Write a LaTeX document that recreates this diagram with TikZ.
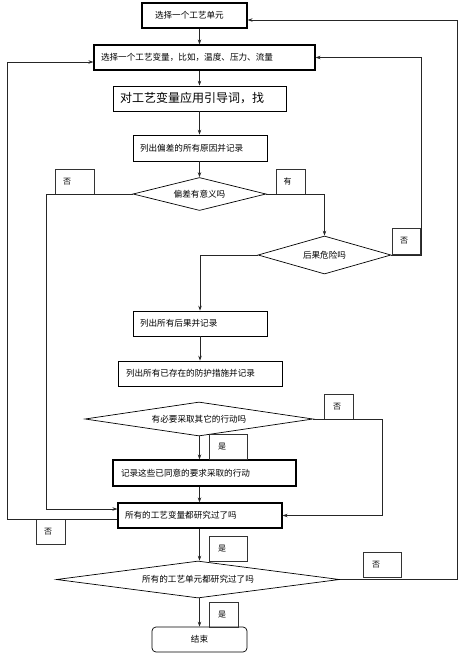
\documentclass[tikz,border=0pt]{standalone}
\usepackage{fontspec}
\setmainfont{Noto Sans CJK SC}
\usetikzlibrary{arrows.meta,shapes.geometric}
\tikzset{
  box/.style={draw=black, line width=0.7pt, rectangle, inner xsep=7pt, inner ysep=0pt, align=left, font=\fontsize{8.6}{10}\selectfont},
  thickbox/.style={box, line width=1.1pt},
  dia/.style={draw=black, line width=0.7pt, diamond, inner sep=0pt},
  lab/.style={draw=black!80, line width=0.7pt, rectangle, inner xsep=8pt, inner ysep=0pt, align=left, font=\fontsize{8}{9}\selectfont},
  conn/.style={line width=0.7pt, draw=black!85},
  arr/.style={conn, -{Stealth[length=5pt,width=3.5pt]}},
  dtext/.style={font=\fontsize{8.6}{10}\selectfont}
}
\begin{document}
\begin{tikzpicture}[x=1pt,y=-1pt]
\useasboundingbox (0,0) rectangle (466,659);
% rectangular boxes
\node[thickbox, minimum width=105, minimum height=25, text width=91] (b1) at (194.5,15.5) {\hspace*{6pt}选择一个工艺单元};
\node[thickbox, minimum width=221, minimum height=25, text width=207] (b2) at (204.5,57.5) {选择一个工艺变量，比如，温度、压力、流量};
\node[box, minimum width=173, minimum height=25, text width=159, font=\fontsize{12}{14}\selectfont] (b3) at (199.5,98.5) {对工艺变量应用引导词，找};
\node[box, minimum width=134, minimum height=26, text width=120] (b4) at (200,148) {列出偏差的所有原因并记录};
\node[box, minimum width=134, minimum height=25, text width=120] (b6) at (200,323.5) {列出所有后果并记录};
\node[box, minimum width=164, minimum height=25, text width=148, inner xsep=8pt] (b7) at (200,373.5) {列出所有已存在的防护措施并记录};
\node[thickbox, minimum width=183, minimum height=26, text width=167, inner xsep=8pt] (b8) at (204.5,473) {记录这些已同意的要求采取的行动};
\node[thickbox, minimum width=164, minimum height=25, text width=150] (b5) at (200,515.5) {所有的工艺变量都研究过了吗};
\node[box, rounded corners=4pt, minimum width=95, minimum height=25, text width=81, align=center] (e) at (199.5,639.5) {结束};
% diamonds
\node[dia, minimum width=133, minimum height=33] (d1) at (199.5,194) {};
\node[dtext] (d1t) at (d1) {偏差有意义吗};
\node[dia, minimum width=133, minimum height=38] (d2) at (324.5,255) {};
\node[dtext] (d2t) at (d2) {后果危险吗};
\node[dia, minimum width=228, minimum height=34] (d3) at (199,419) {};
\node[dtext] (d3t) at (d3) {有必要采取其它的行动吗};
\node[dia, minimum width=283, minimum height=37] (d4) at (198,579.5) {};
\node[dtext] (d4t) at (d4) {所有的工艺单元都研究过了吗};
% label boxes
\node[lab, minimum width=39, minimum height=25, text width=23] (l1) at (74.5,181.5) {否};
\node[lab, minimum width=29, minimum height=25, text width=14, inner xsep=7pt] (l2) at (290.5,181.5) {有};
\node[lab, minimum width=28, minimum height=26, text width=12] (l3) at (406,241) {否};
\node[lab, minimum width=29, minimum height=25, text width=11, inner xsep=9pt] (l4) at (338.5,406.5) {否};
\node[lab, minimum width=38, minimum height=25, text width=20, inner xsep=9pt] (l5) at (228,446.5) {是};
\node[lab, minimum width=29, minimum height=25, text width=13] (l6) at (50.5,531.5) {否};
\node[lab, minimum width=38, minimum height=25, text width=20, inner xsep=9pt] (l7) at (228,548.5) {是};
\node[lab, minimum width=38, minimum height=25, text width=20, inner xsep=9pt] (l8) at (382,564.5) {否};
\node[lab, minimum width=29, minimum height=25, text width=11, inner xsep=9pt] (l9) at (223.5,614.5) {是};
% helper coordinates
\coordinate (ax) at (199.5,0);
\coordinate (xL1) at (46,509);
\coordinate (xR1) at (421,57.5);
\coordinate (xR2) at (382,515.5);
\coordinate (xL2a) at (7,519);
\coordinate (xL2b) at (7,62);
\coordinate (xR3) at (457,20);
% connectors
\draw[arr] (b1.south -| ax) -- (b2.north -| ax);
\draw[arr] (b2.south -| ax) -- (b3.north -| ax);
\draw[arr] (b3.south -| ax) -- (b4.north -| ax);
\draw[arr] (b4.south -| ax) -- (d1.north);
\draw[arr] (d1.west) -| (xL1) -- (b5.west |- xL1);
\draw[arr] (d1.east) -| (d2.north);
\draw[arr] (d2.east) -| (xR1) -- (b2.east);
\draw[arr] (d2.west) -| (b6.north);
\draw[arr] (b6.south) -- (b7.north);
\draw[arr] (d3.east) -| (xR2) -- (b5.east);
\draw[arr] (d3.south -| ax) -- (b8.north -| ax);
\draw[arr] (b8.south -| ax) -- (b5.north -| ax);
\draw[arr] (b5.west |- xL2a) -- (xL2a) -- (xL2b) -- (b2.west |- xL2b);
\draw[arr] (b5.south -| ax) -- (d4.north -| ax);
\draw[arr] (d4.east) -| (xR3) -- (b1.east |- xR3);
\draw[arr] (d4.south -| ax) -- (e.north -| ax);
\end{tikzpicture}
\end{document}
